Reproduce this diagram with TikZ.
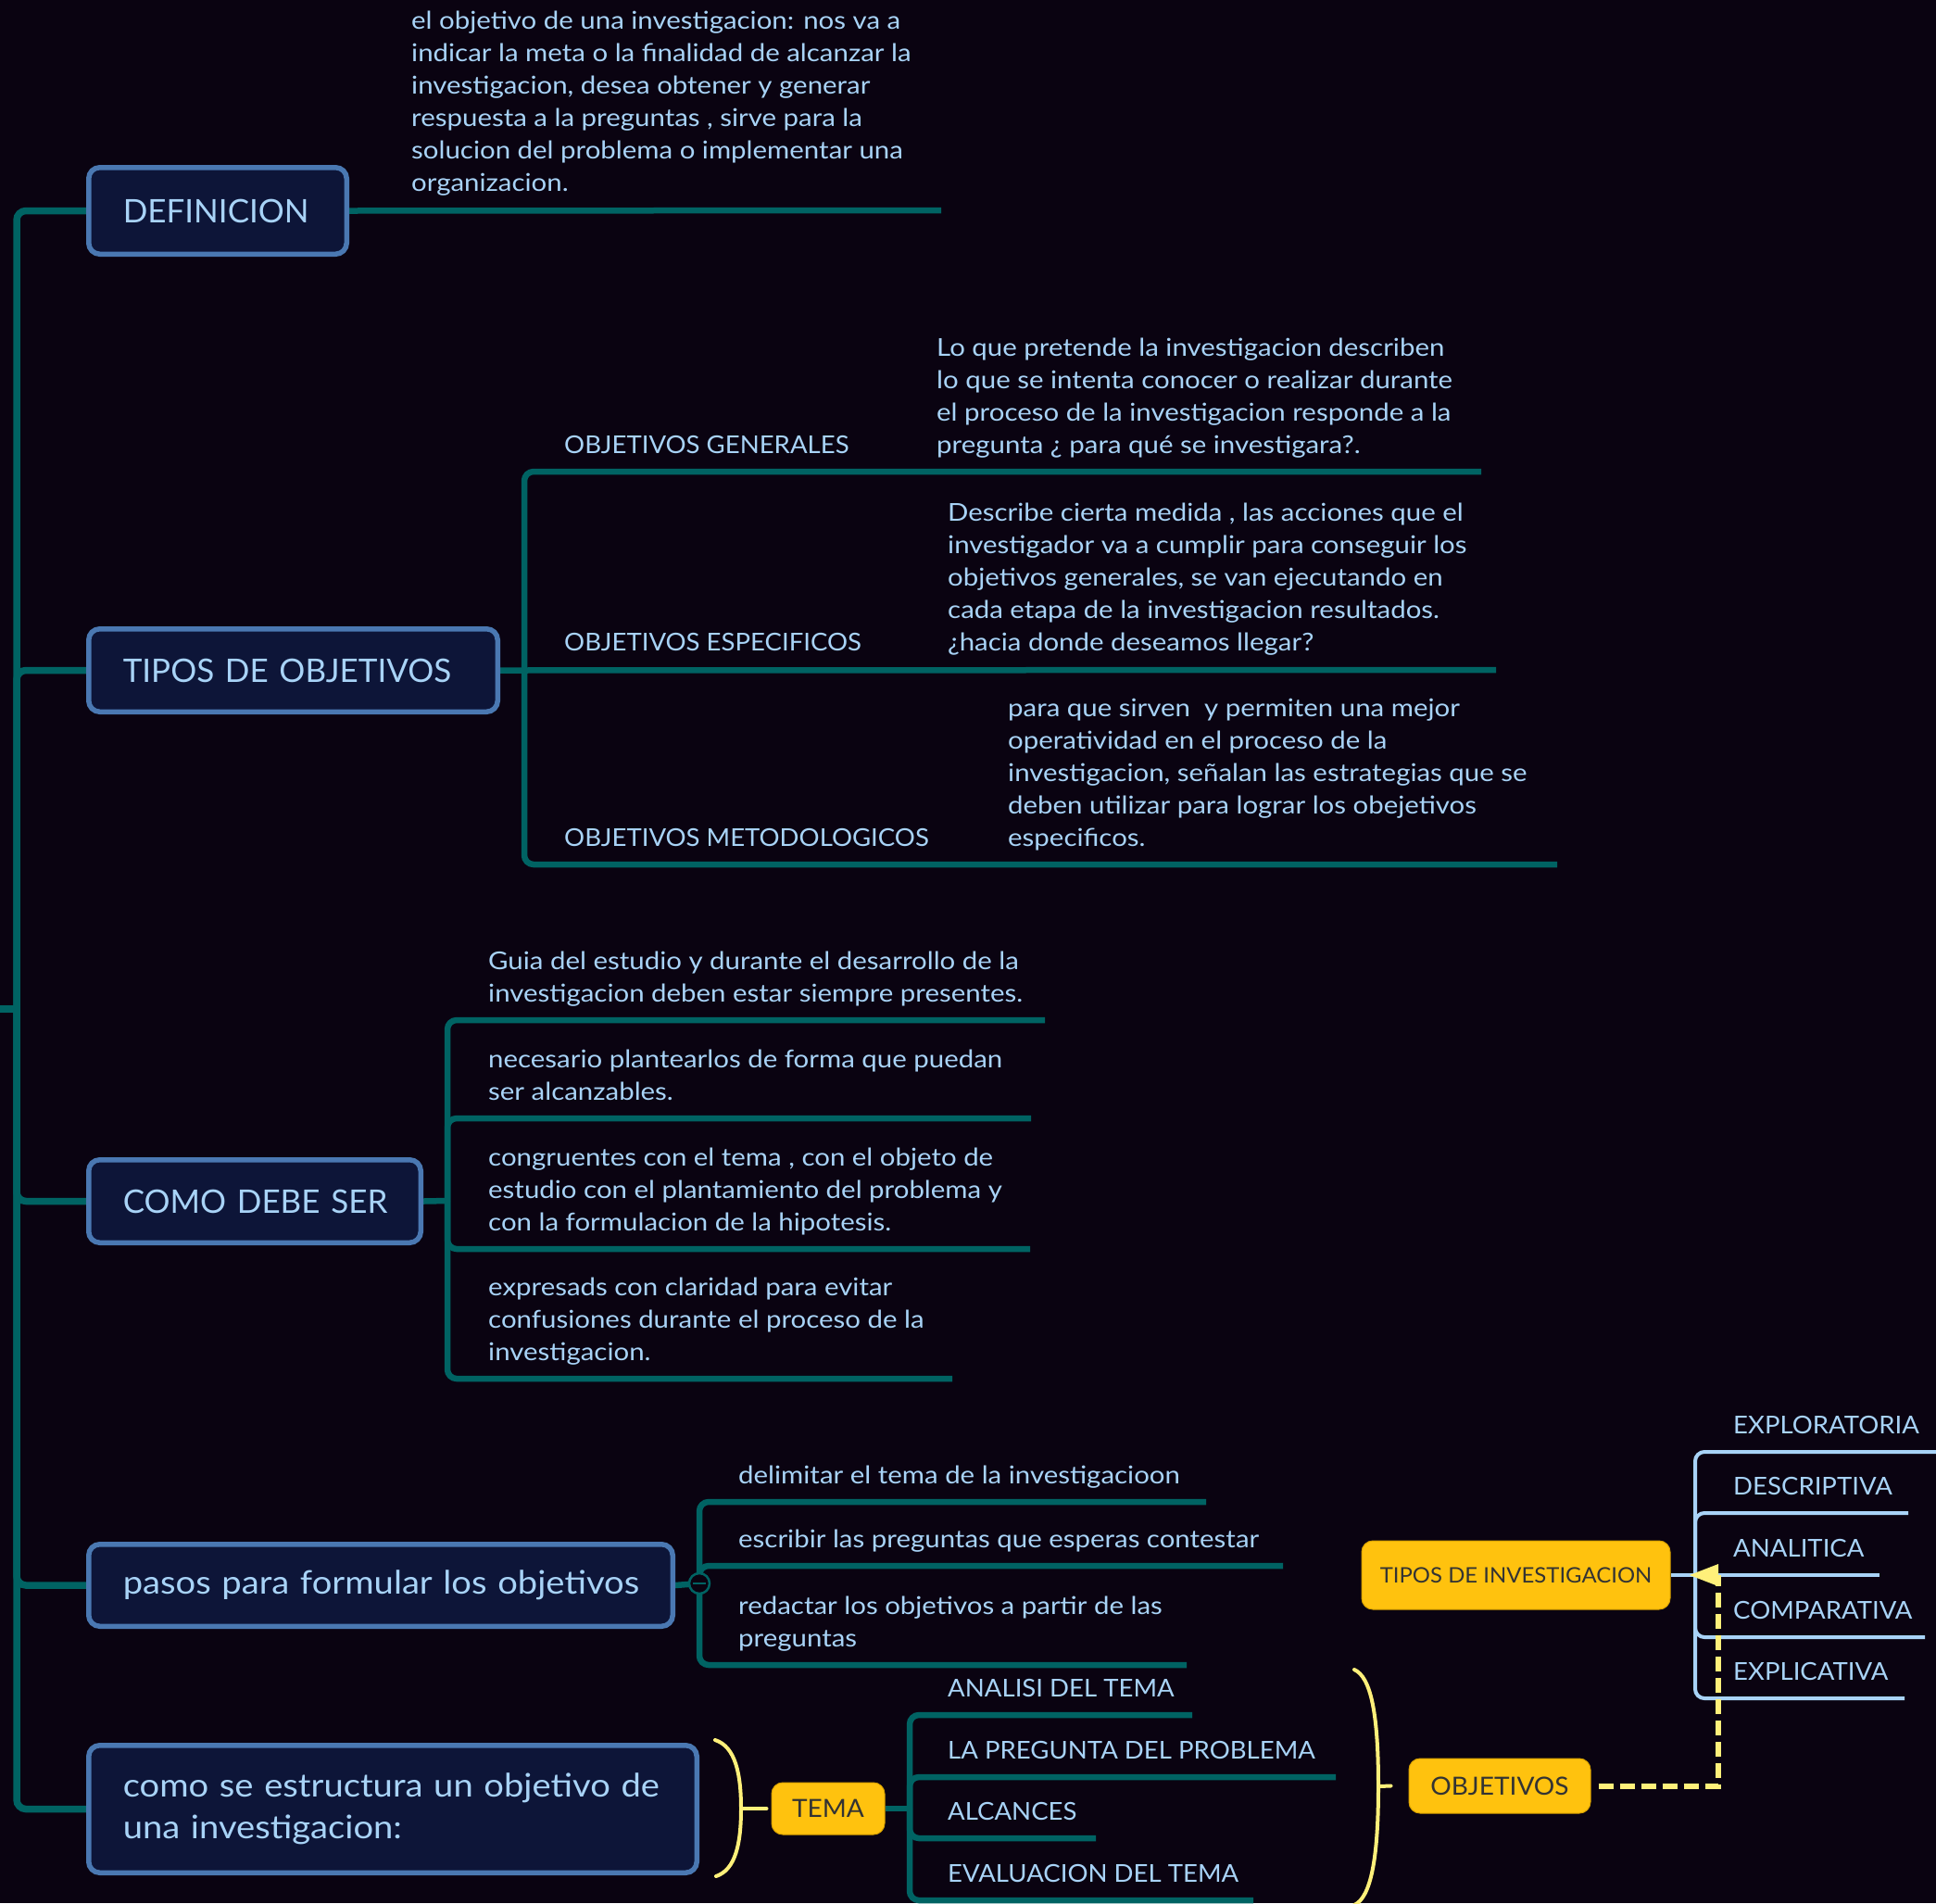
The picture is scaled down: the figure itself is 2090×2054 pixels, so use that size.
\documentclass[tikz,border=0pt]{standalone}
\usepackage{fontspec}
\setmainfont{Lato}
\newfontfamily\lcfont{Lato}[FakeStretch=1.11]
\newfontfamily\ucfont{Lato}[FakeStretch=1.04]
\newfontfamily\ttlfont{Lato}[FakeStretch=1.09]
\usetikzlibrary{arrows.meta}
\definecolor{bgc}{HTML}{0A0311}
\definecolor{mmteal}{RGB}{0,99,99}
\definecolor{boxedge}{HTML}{4A78B2}
\definecolor{boxfill}{HTML}{0D1538}
\definecolor{txtc}{HTML}{A8D3F7}
\definecolor{ynodec}{HTML}{FFC20E}
\definecolor{ynodeedge}{HTML}{D9A200}
\definecolor{ytext}{HTML}{333333}
\definecolor{bracec}{HTML}{FFF07A}
\definecolor{mmblue}{HTML}{A8D3F7}
\pgfdeclarelayer{back}
\pgfdeclarelayer{lines}
\pgfsetlayers{back,lines,main}
\tikzset{
  tline/.style={draw=mmteal, line width=6.5pt, rounded corners=10pt},
  bline/.style={draw=mmblue, line width=4pt, rounded corners=10pt},
  topbox/.style={draw=boxedge, fill=boxfill, line width=5.5pt, rounded corners=12pt, text=txtc,
    font=\fontsize{35}{45}\selectfont, align=left, inner xsep=37pt, inner ysep=0pt},
  txt/.style={text=txtc, font=\lcfont\fontsize{26.5}{35}\selectfont, align=left, inner sep=0pt},
  captxt/.style={text=txtc, font=\ucfont\fontsize{26.5}{35}\selectfont, align=left, inner sep=0pt},
  ynode/.style={fill=ynodec, draw=ynodeedge, line width=1pt, rounded corners=12pt, text=ytext, inner sep=0pt},
  bracepath/.style={draw=bracec, line width=4pt, line cap=round},
  ydash/.style={draw=bracec, line width=6pt, dash pattern=on 16pt off 7pt},
}
\begin{document}
\begin{tikzpicture}[x=1pt,y=-1pt]
\begin{pgfonlayer}{back}
\fill[bgc] (0,0) rectangle (2090,2054);
\end{pgfonlayer}
\useasboundingbox (0,0) rectangle (2090,2054);

% ---------- main boxes ----------
\node[topbox, text width=204.5pt, minimum height=93.5pt] (def) at (235,227.5) {\mbox{DEFINICION}};
\node[topbox, text width=367.5pt, minimum height=89.5pt] (tob) at (316.5,723.5) {\mbox{TIPOS DE OBJETIVOS}};
\node[topbox, text width=284.5pt, minimum height=89.5pt] (como) at (275,1296.5) {\mbox{COMO DEBE SER}};
\node[topbox, text width=556.5pt, minimum height=88.5pt, font=\ttlfont\fontsize{35}{45}\selectfont] (pasos) at (411,1711) {\mbox{pasos para formular los objetivos}};
\node[topbox, text width=582.5pt, minimum height=137.5pt, font=\ttlfont\fontsize{35}{45}\selectfont] (estr) at (424,1952.5) {\mbox{como se estructura un objetivo de}\\\mbox{una investigacion:}};

% ---------- yellow nodes ----------
\node[ynode, minimum width=333pt, minimum height=74pt, font=\ucfont\fontsize{23}{28}\selectfont] (tinv) at (1636.5,1700) {TIPOS DE INVESTIGACION};
\node[ynode, minimum width=122pt, minimum height=56pt, font=\ucfont\fontsize{27}{32}\selectfont] (tema) at (894,1952) {TEMA};
\node[ynode, minimum width=196pt, minimum height=59pt, font=\ucfont\fontsize{27}{32}\selectfont] (obj) at (1619,1927.5) {OBJETIVOS};

% ---------- coordinates ----------
\coordinate (rootin) at (0,1089);
\coordinate (root) at (18,1089);
\coordinate (defend) at (1016,227);
\coordinate (tj) at (566,723);
\coordinate (genend) at (1599,509);
\coordinate (espend) at (1615,723);
\coordinate (metend) at (1681,933);
\coordinate (cj) at (483,1296);
\coordinate (c1) at (1128,1101);
\coordinate (c2) at (1113,1207);
\coordinate (c3) at (1112,1348);
\coordinate (c4) at (1028,1488);
\coordinate (pj) at (755,1709);
\coordinate (p1) at (1302,1621);
\coordinate (p2) at (1385,1690);
\coordinate (p3) at (1281,1797);
\coordinate (mj) at (982,1952);
\coordinate (m1) at (1287,1851);
\coordinate (m2) at (1442,1918);
\coordinate (m3) at (1183,1984);
\coordinate (m4) at (1353,2051);
\coordinate (ij) at (1830,1700);
\coordinate (i1) at (2090,1567);
\coordinate (i2) at (2060,1633);
\coordinate (i3) at (2029,1700);
\coordinate (i4) at (2078,1767);
\coordinate (i5) at (2056,1833);
\coordinate (dbend) at (1855,1700);
\coordinate (atip) at (1824,1700);

% ---------- connectors ----------
\begin{pgfonlayer}{lines}
\draw[tline, line width=7.5pt] (rootin) -- (root);
\foreach \n in {def,tob,como,pasos,estr}{
  \draw[tline, line width=7.5pt] (root) |- (\n.west);
}
\draw[tline] (def.east) -- (defend);
\draw[tline] (tob.east) -- (espend);
\draw[tline] (tj) |- (genend);
\draw[tline] (tj) |- (metend);
\draw[tline] (como.east) -- (cj);
\foreach \e in {c1,c2,c3,c4}{ \draw[tline] (cj) |- (\e); }
\draw[tline] (pasos.east) -- (pj);
\foreach \e in {p1,p2,p3}{ \draw[tline] (pj) |- (\e); }
\draw[tline] (tema.east) -- (mj);
\foreach \e in {m1,m2,m3,m4}{ \draw[tline] (mj) |- (\e); }
\draw[bline] (tinv.east) -- (i3);
\foreach \e in {i1,i2,i4,i5}{ \draw[bline] (ij) |- (\e); }
\end{pgfonlayer}

% collapse marker
\node[circle, draw=mmteal, fill=bgc, line width=2.5pt, minimum size=22pt, inner sep=0pt] (col) at (pj) {};
\draw[mmteal, line width=2.5pt] ([xshift=-7pt]col.center) -- ([xshift=7pt]col.center);

% braces
\coordinate (b1top) at (772,1878);
\coordinate (b1mid) at (800,1952);
\coordinate (b1bot) at (773,2025);
\draw[bracepath] (b1top) .. controls (794,1885) and (800,1915) .. (b1mid) .. controls (800,1990) and (794,2018) .. (b1bot);
\draw[bracepath] (b1mid) -- ([xshift=-5pt]tema.west);
\coordinate (b2top) at (1462,1802);
\coordinate (b2mid) at (1488,1928);
\coordinate (b2bot) at (1462,2056);
\draw[bracepath] (b2top) .. controls (1480,1810) and (1488,1850) .. (b2mid) .. controls (1488,2005) and (1480,2048) .. (b2bot);
\draw[bracepath] (b2mid) -- ([xshift=-19pt]obj.west);

% dashed relation
\draw[ydash] ([xshift=8pt]obj.east) -| (dbend);
\fill[bracec] (atip) -- ([yshift=-12pt]dbend) -- ([yshift=12pt]dbend) -- cycle;

% ---------- texts (base = baseline of last line) ----------
\node[txt, anchor=base west] (defd) at (444,206) {el objetivo de una investigacion: nos va a\\indicar la meta o la finalidad de alcanzar la\\investigacion, desea obtener y generar\\respuesta a la preguntas , sirve para la\\solucion del problema o implementar una\\organizacion.};

\node[captxt, anchor=base west] (genl) at (609,489) {OBJETIVOS GENERALES};
\node[txt, anchor=base west] (gend) at (1011,489) {Lo que pretende la investigacion describen\\lo que se intenta conocer o realizar durante\\el proceso de la investigacion responde a la\\pregunta ¿ para qué se investigara?.};
\node[captxt, anchor=base west] (espl) at (609,702) {OBJETIVOS ESPECIFICOS};
\node[txt, anchor=base west] (espd) at (1023,702) {Describe cierta medida , las acciones que el\\investigador va a cumplir para conseguir los\\objetivos generales, se van ejecutando en\\cada etapa de la investigacion resultados.\\¿hacia donde deseamos llegar?};
\node[captxt, anchor=base west] (metl) at (609,913) {OBJETIVOS METODOLOGICOS};
\node[txt, anchor=base west] (metd) at (1088,913) {para que sirven \ y permiten una mejor\\operatividad en el proceso de la\\investigacion, señalan las estrategias que se\\deben utilizar para lograr los obejetivos\\especificos.};

\node[txt, anchor=base west] (ct1) at (527,1081) {Guia del estudio y durante el desarrollo de la\\investigacion deben estar siempre presentes.};
\node[txt, anchor=base west] (ct2) at (527,1187) {necesario plantearlos de forma que puedan\\ser alcanzables.};
\node[txt, anchor=base west] (ct3) at (527,1328) {congruentes con el tema , con el objeto de\\estudio con el plantamiento del problema y\\con la formulacion de la hipotesis.};
\node[txt, anchor=base west] (ct4) at (527,1468) {expresads con claridad para evitar\\confusiones durante el proceso de la\\investigacion.};

\node[txt, anchor=base west] (pt1) at (797,1601) {delimitar el tema de la investigacioon};
\node[txt, anchor=base west] (pt2) at (797,1670) {escribir las preguntas que esperas contestar};
\node[txt, anchor=base west] (pt3) at (797,1777) {redactar los objetivos a partir de las\\preguntas};

\node[captxt, anchor=base west] (mt1) at (1023,1831) {ANALISI DEL TEMA};
\node[captxt, anchor=base west] (mt2) at (1023,1898) {LA PREGUNTA DEL PROBLEMA};
\node[captxt, anchor=base west] (mt3) at (1023,1964) {ALCANCES};
\node[captxt, anchor=base west] (mt4) at (1023,2031) {EVALUACION DEL TEMA};

\node[captxt, anchor=base west] (it1) at (1871,1547) {EXPLORATORIA};
\node[captxt, anchor=base west] (it2) at (1871,1613) {DESCRIPTIVA};
\node[captxt, anchor=base west] (it3) at (1871,1680) {ANALITICA};
\node[captxt, anchor=base west] (it4) at (1871,1747) {COMPARATIVA};
\node[captxt, anchor=base west] (it5) at (1871,1813) {EXPLICATIVA};
\end{tikzpicture}
\end{document}
